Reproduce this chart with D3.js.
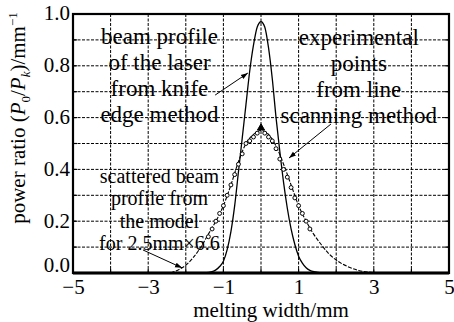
<!DOCTYPE html>
<html>
<head>
<meta charset="utf-8">
<script src="https://cdn.jsdelivr.net/npm/d3@7"></script>
<style>
  body { margin: 0; background: #fff; }
  text { font-family: "Liberation Serif", "Times New Roman", serif; fill: #000; }
</style>
</head>
<body>
<div id="chart"></div>
<script>
// beam profile of the laser (knife edge method)
const beamX = [-1.5, -1.3, -1.2, -1.1, -1.0, -0.9, -0.8, -0.7, -0.6, -0.5, -0.4, -0.3, -0.2, -0.1, 0, 0.1, 0.2, 0.3, 0.4, 0.5, 0.6, 0.7, 0.8, 0.9, 1.0, 1.1, 1.2, 1.3, 1.45, 1.6];
const beamY = [0, 0.005, 0.012, 0.025, 0.045, 0.09, 0.16, 0.26, 0.39, 0.52, 0.65, 0.78, 0.88, 0.95, 0.97, 0.95, 0.87, 0.75, 0.60, 0.47, 0.35, 0.25, 0.17, 0.11, 0.065, 0.038, 0.02, 0.01, 0.004, 0];

// scattered beam profile from the model
const modelX = [-2.4, -2.2, -2.0, -1.8, -1.6, -1.4, -1.2, -1.0, -0.8, -0.6, -0.4, -0.2, 0, 0.2, 0.4, 0.6, 0.8, 1.0, 1.2, 1.4, 1.6, 1.8, 2.0, 2.3, 2.6, 3.0];
const modelY = [0, 0.012, 0.03, 0.06, 0.10, 0.15, 0.20, 0.26, 0.34, 0.43, 0.50, 0.535, 0.55, 0.535, 0.49, 0.42, 0.34, 0.26, 0.20, 0.15, 0.11, 0.075, 0.05, 0.025, 0.01, 0.002];

// experimental points from line scanning method
const expX = [-1.4, -1.3, -1.2, -1.1, -1.0, -0.9, -0.8, -0.7, -0.6, -0.5, -0.4, -0.3, -0.2, -0.1, 0, 0.1, 0.2, 0.3, 0.4, 0.5, 0.6, 0.7, 0.8, 0.9, 1.0, 1.1, 1.2, 1.3];
const expY = [0.14, 0.17, 0.20, 0.23, 0.26, 0.30, 0.34, 0.38, 0.42, 0.46, 0.50, 0.51, 0.525, 0.54, 0.56, 0.54, 0.525, 0.51, 0.48, 0.44, 0.40, 0.37, 0.33, 0.29, 0.26, 0.23, 0.20, 0.17];

const xTicks = [-5, -3, -1, 1, 3, 5];
const yTicks = [0, 0.2, 0.4, 0.6, 0.8, 1.0];
const xGrid = d3.range(-5, 5.01, 1);
const yGrid = d3.range(0, 1.001, 0.1);

const notes = [
  { x: -2.7, y: 0.885, dy: 26, size: 23, lines: ['beam profile', 'of the laser', 'from knife', 'edge method'] },
  { x: 2.6, y: 0.88, dy: 26, size: 23, lines: ['experimental', 'points', 'from line', 'scanning method'] },
  { x: -2.7, y: 0.348, dy: 22.5, size: 20, lines: ['scattered beam', 'profile from', 'the model', 'for 2.5mm\u00d76.6'] }
];
const arrows = [
  { x1: -1.22, y1: 0.687, x2: -0.35, y2: 0.772 },
  { x1: 1.86, y1: 0.575, x2: 0.745, y2: 0.444 },
  { x1: -3.14, y1: 0.089, x2: -2.10, y2: 0.02 }
];

const margin = { top: 14, right: 5, bottom: 49, left: 73 };
const width = 454 - margin.left - margin.right;
const height = 322 - margin.top - margin.bottom;

const svg = d3.select('#chart')
  .append('svg')
  .attr('width', 454)
  .attr('height', 322);

svg.append('defs').append('marker')
  .attr('id', 'arr')
  .attr('viewBox', '0 0 10 10')
  .attr('refX', 10).attr('refY', 5)
  .attr('markerWidth', 7).attr('markerHeight', 7)
  .attr('orient', 'auto')
  .append('path')
  .attr('d', 'M0,1.5L10,5L0,8.5Z')
  .attr('fill', '#000');

const g = svg.append('g')
  .attr('transform', `translate(${margin.left},${margin.top})`);

const x = d3.scaleLinear().domain([-5, 5]).range([0, width]);
const y = d3.scaleLinear().domain([0, 1]).range([height, 0]);

// dashed grid
g.append('g').selectAll('line').data(xGrid).join('line')
  .attr('x1', d => x(d)).attr('x2', d => x(d))
  .attr('y1', 0).attr('y2', height)
  .attr('stroke', '#000').attr('stroke-width', 1)
  .attr('stroke-dasharray', '3,1.5');
g.append('g').selectAll('line').data(yGrid).join('line')
  .attr('x1', 0).attr('x2', width)
  .attr('y1', d => y(d)).attr('y2', d => y(d))
  .attr('stroke', '#000').attr('stroke-width', 1)
  .attr('stroke-dasharray', '3,1.5');

// axes
const xAxis = g.append('g')
  .attr('transform', `translate(0,${height})`)
  .call(d3.axisBottom(x).tickValues(xTicks).tickSize(0).tickPadding(6).tickFormat(d3.format('d')));
const yAxis = g.append('g')
  .call(d3.axisLeft(y).tickValues(yTicks).tickSize(0).tickPadding(3).tickFormat(d3.format('.1f')));
[xAxis, yAxis].forEach(a => {
  a.select('.domain').remove();
  a.selectAll('text').attr('font-size', 21).attr('font-family', '"Liberation Serif", serif').attr('fill', '#000');
});
// 0.0 sits a little higher so it clears the -5 below it
yAxis.selectAll('text').attr('dy', d => d === 0 ? '-0.05em' : '0.28em');

// inward ticks on all sides
g.append('g').selectAll('line').data(yGrid).join('line')
  .attr('x1', 0).attr('x2', 4).attr('y1', d => y(d)).attr('y2', d => y(d))
  .attr('stroke', '#000').attr('stroke-width', 1.2);
g.append('g').selectAll('line').data(yGrid).join('line')
  .attr('x1', width - 4).attr('x2', width).attr('y1', d => y(d)).attr('y2', d => y(d))
  .attr('stroke', '#000').attr('stroke-width', 1.2);
g.append('g').selectAll('line').data(xGrid).join('line')
  .attr('x1', d => x(d)).attr('x2', d => x(d)).attr('y1', height - 4).attr('y2', height)
  .attr('stroke', '#000').attr('stroke-width', 1.2);

// curves
const line = d3.line().x(d => x(d[0])).y(d => y(d[1])).curve(d3.curveMonotoneX);

g.append('path')
  .datum(d3.zip(modelX, modelY))
  .attr('d', line)
  .attr('fill', 'none').attr('stroke', '#000').attr('stroke-width', 1.1)
  .attr('stroke-dasharray', '4,1.5');

g.append('path')
  .datum(d3.zip(beamX, beamY))
  .attr('d', line)
  .attr('fill', 'none').attr('stroke', '#000').attr('stroke-width', 1.3);

const expPts = d3.zip(expX, expY);
g.append('g').selectAll('path').data(expPts).join('path')
  .attr('transform', d => `translate(${x(d[0])},${y(d[1])})`)
  .attr('d', d => d3.symbol(d[0] === 0 ? d3.symbolTriangle : d3.symbolCircle, d[0] === 0 ? 22 : 12)())
  .attr('fill', d => d[0] === 0 ? '#000' : '#fff')
  .attr('stroke', '#000').attr('stroke-width', 1);

// annotations
notes.forEach(n => {
  const t = g.append('text')
    .attr('x', x(n.x)).attr('y', y(n.y))
    .attr('text-anchor', 'middle')
    .attr('font-size', n.size);
  n.lines.forEach((s, i) => {
    t.append('tspan').attr('x', x(n.x)).attr('dy', i === 0 ? 0 : n.dy).text(s);
  });
});
g.append('g').selectAll('line').data(arrows).join('line')
  .attr('x1', d => x(d.x1)).attr('y1', d => y(d.y1))
  .attr('x2', d => x(d.x2)).attr('y2', d => y(d.y2))
  .attr('stroke', '#000').attr('stroke-width', 1)
  .attr('marker-end', 'url(#arr)');

// frame
g.append('rect')
  .attr('width', width).attr('height', height)
  .attr('fill', 'none').attr('stroke', '#000').attr('stroke-width', 2.2);
g.append('line')
  .attr('x1', 0).attr('x2', width).attr('y1', height).attr('y2', height)
  .attr('stroke', '#000').attr('stroke-width', 3);

// axis titles
svg.append('text')
  .attr('x', margin.left + x(0) + 10).attr('y', 317)
  .attr('text-anchor', 'middle').attr('font-size', 21)
  .text('melting width/mm');

const yt = svg.append('text')
  .attr('transform', `translate(25,${118}) rotate(-90)`)
  .attr('text-anchor', 'middle').attr('font-size', 21);
yt.append('tspan').text('power ratio (');
yt.append('tspan').attr('font-style', 'italic').text('P');
yt.append('tspan').attr('font-size', 13).attr('dy', 5).text('0');
yt.append('tspan').attr('dy', -5).text('/');
yt.append('tspan').attr('font-style', 'italic').text('P');
yt.append('tspan').attr('font-size', 13).attr('font-style', 'italic').attr('dy', 5).text('k');
yt.append('tspan').attr('dy', -5).text(')/mm');
yt.append('tspan').attr('font-size', 13).attr('dy', -8).text('\u22121');
</script>
</body>
</html>
